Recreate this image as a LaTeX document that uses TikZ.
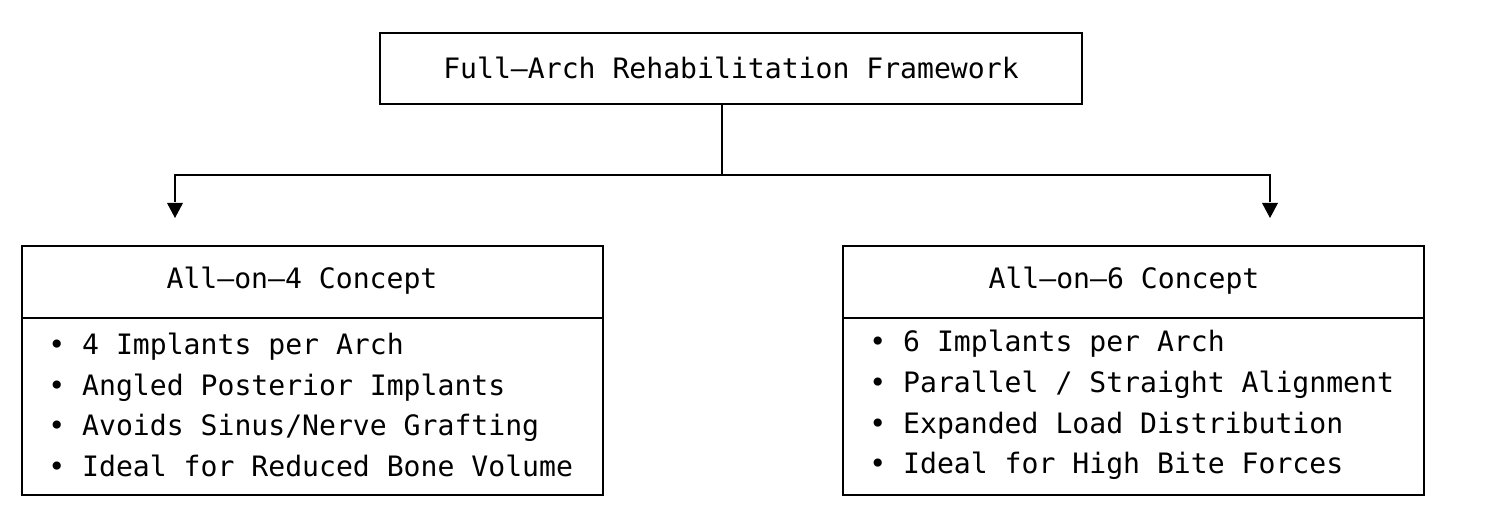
\documentclass[tikz,border=0pt]{standalone}
\usepackage{fontspec}
\setmainfont{DejaVu Sans Mono}
\begin{document}
\begin{tikzpicture}[x=0.02cm,y=-0.02cm,
  box/.style={draw,line width=1.1pt,inner sep=0pt},
  txt/.style={font=\fontsize{16}{18}\selectfont,inner sep=0pt},
  ln/.style={line width=1.1pt}]
\useasboundingbox (0,0) rectangle (1500,526);
\node[box,minimum width=702*0.02cm,minimum height=71*0.02cm] (top) at (731,68.5) {};
\node[txt] (toptxt) at (731,68) {Full–Arch Rehabilitation Framework};
% left box
\node[box,minimum width=581*0.02cm,minimum height=249*0.02cm] (L) at (312.5,370.5) {};
\draw[ln] (22,318) -- (603,318);
\node[txt] (Lt) at (302,281) {All–on–4 Concept};
\node[txt,anchor=west,align=left] (Lb) at (48,405) {• 4 Implants per Arch\\[5.2pt]• Angled Posterior Implants\\[5.2pt]• Avoids Sinus/Nerve Grafting\\[5.2pt]• Ideal for Reduced Bone Volume};
% right box
\node[box,minimum width=581*0.02cm,minimum height=249*0.02cm] (R) at (1133.5,370.5) {};
\draw[ln] (843,318) -- (1424,318);
\node[txt] (Rt) at (1124,281) {All–on–6 Concept};
\node[txt,anchor=west,align=left] (Rb) at (869,405) {• 6 Implants per Arch\\[5.2pt]• Parallel / Straight Alignment\\[5.2pt]• Expanded Load Distribution\\[5.2pt]• Ideal for High Bite Forces};
% connectors
\coordinate (j) at (722,175);
\coordinate (la) at (175,202);
\coordinate (ra) at (1270,202);
\draw[ln] (top.south -| j) -- (j);
\draw[ln] (la) -- (175,175) -- (1270,175) -- (ra);
\fill (167,203) -- (183,203) -- (175,218) -- cycle;
\fill (1262,203) -- (1278,203) -- (1270,218) -- cycle;
\end{tikzpicture}
\end{document}
